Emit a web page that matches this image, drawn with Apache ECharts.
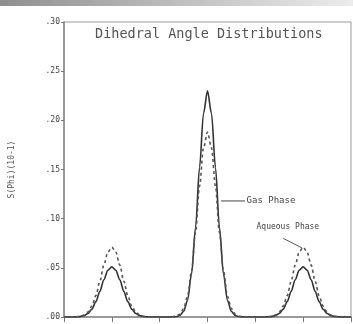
<!DOCTYPE html>
<html>
<head>
<meta charset="utf-8">
<script src="https://cdn.jsdelivr.net/npm/echarts@6/dist/echarts.min.js"></script>
<style>
  html, body { margin: 0; padding: 0; background: #fff; }
  #chart { width: 353px; height: 324px; }
</style>
</head>
<body>
<div id="chart"></div>
<script>
// dihedral angle (degrees), sampled every 5
const angles = [
  0, 5, 10, 15, 20, 25, 30, 35, 40, 45, 50, 55, 60, 65, 70, 75, 80, 85, 90, 95,
  100, 105, 110, 115, 120, 125, 130, 135, 140, 145, 150, 155, 160, 165, 170, 175,
  180, 185, 190, 195, 200, 205, 210, 215, 220, 225, 230, 235, 240, 245, 250, 255,
  260, 265, 270, 275, 280, 285, 290, 295, 300, 305, 310, 315, 320, 325, 330, 335,
  340, 345, 350, 355, 360
];

const gasPhase = [
  0, 0, 0, 0.0001, 0.0004, 0.0014, 0.0036, 0.0080, 0.0156, 0.0262, 0.0379, 0.0474,
  0.051, 0.0474, 0.0379, 0.0262, 0.0156, 0.0080, 0.0036, 0.0014, 0.0004, 0.0001, 0, 0,
  0, 0, 0, 0, 0.0003, 0.0015, 0.0056, 0.017, 0.044, 0.091, 0.152, 0.207,
  0.230, 0.207, 0.152, 0.091, 0.044, 0.017, 0.0056, 0.0015, 0.0003, 0, 0, 0,
  0, 0, 0, 0.0001, 0.0004, 0.0014, 0.0036, 0.0080, 0.0156, 0.0262, 0.0379, 0.0474,
  0.051, 0.0474, 0.0379, 0.0262, 0.0156, 0.0080, 0.0036, 0.0014, 0.0004, 0.0001, 0, 0, 0
];

const aqueousPhase = [
  0, 0, 0, 0.0002, 0.0006, 0.0019, 0.0050, 0.0111, 0.0217, 0.0365, 0.0528, 0.066,
  0.071, 0.066, 0.0528, 0.0365, 0.0217, 0.0111, 0.0050, 0.0019, 0.0006, 0.0002, 0, 0,
  0, 0, 0, 0.0002, 0.0007, 0.0027, 0.0083, 0.021, 0.047, 0.086, 0.133, 0.172,
  0.188, 0.172, 0.133, 0.086, 0.047, 0.021, 0.0083, 0.0027, 0.0007, 0.0002, 0, 0,
  0, 0, 0, 0.0002, 0.0006, 0.0019, 0.0050, 0.0111, 0.0217, 0.0365, 0.0528, 0.066,
  0.071, 0.066, 0.0528, 0.0365, 0.0217, 0.0111, 0.0050, 0.0019, 0.0006, 0.0002, 0, 0, 0
];

const yTicks = ['.00', '.05', '.10', '.15', '.20', '.25', '.30'];

const toPairs = vals => angles.map((a, i) => [a, vals[i]]);

const mono = 'DejaVu Sans Mono';
const ink = '#333';

const chart = echarts.init(document.getElementById('chart'));

chart.setOption({
  animation: false,
  backgroundColor: '#fff',
  title: {
    text: 'Dihedral Angle Distributions',
    left: 90,
    top: 22,
    textStyle: { fontFamily: mono, fontSize: 13.5, fontWeight: 'normal', color: '#555' }
  },
  grid: {
    left: 62, right: 2, top: 22, bottom: 7,
    show: true, borderColor: '#999', borderWidth: 1
  },
  xAxis: {
    type: 'value',
    min: 0, max: 360, interval: 60,
    axisLine: { lineStyle: { color: '#888', width: 1.5 } },
    axisTick: { show: true, length: 5, lineStyle: { color: '#777' } },
    axisLabel: { show: false },
    splitLine: { show: false }
  },
  yAxis: {
    type: 'value',
    min: 0, max: 0.30, interval: 0.05,
    name: 'S(Phi)(10-1)',
    nameLocation: 'middle',
    nameRotate: 90,
    nameGap: 48,
    nameTextStyle: { fontFamily: mono, fontSize: 8, color: '#555' },
    axisLine: { show: true, lineStyle: { color: '#888', width: 1.5 } },
    axisTick: { show: true, length: 3, lineStyle: { color: '#777' } },
    axisLabel: {
      fontFamily: mono, fontSize: 8, color: '#444', margin: 4,
      formatter: v => yTicks[Math.round(v / 0.05)]
    },
    splitLine: { show: false }
  },
  series: [
    {
      name: 'Gas Phase',
      type: 'line',
      data: toPairs(gasPhase),
      showSymbol: false,
      smooth: 0.3,
      smoothMonotone: 'x',
      lineStyle: { color: ink, width: 1.6 }
    },
    {
      name: 'Aqueous Phase',
      type: 'line',
      data: toPairs(aqueousPhase),
      showSymbol: false,
      smooth: 0.3,
      smoothMonotone: 'x',
      lineStyle: { color: '#555', width: 1.6, type: [3, 3] }
    }
  ]
});

// annotation leaders, in data coordinates
const px = p => chart.convertToPixel({ gridIndex: 0 }, p);
const gasA = px([197, 0.118]), gasB = px([227, 0.118]), gasT = px([229, 0.118]);
const aqA = px([275, 0.080]), aqB = px([299, 0.070]), aqT = px([241.5, 0.0915]);

chart.setOption({
  graphic: [
    {
      type: 'rect', left: 0, top: 0, shape: { width: 353, height: 6 }, silent: true,
      style: {
        fill: new echarts.graphic.LinearGradient(0, 0, 1, 0, [
          { offset: 0, color: '#8f8f8f' }, { offset: 1, color: '#ececec' }
        ])
      }
    },
    {
      type: 'line', shape: { x1: gasA[0], y1: gasA[1], x2: gasB[0], y2: gasB[1] },
      style: { stroke: '#444', lineWidth: 1 }
    },
    {
      type: 'text', x: gasT[0], y: gasT[1],
      style: { text: 'Gas Phase', font: '9px ' + mono, fill: '#444', verticalAlign: 'middle' }
    },
    {
      type: 'line', shape: { x1: aqA[0], y1: aqA[1], x2: aqB[0], y2: aqB[1] },
      style: { stroke: '#555', lineWidth: 1 }
    },
    {
      type: 'text', x: aqT[0], y: aqT[1],
      style: { text: 'Aqueous Phase', font: '8px ' + mono, fill: '#444', verticalAlign: 'middle' }
    }
  ]
});
</script>
</body>
</html>
